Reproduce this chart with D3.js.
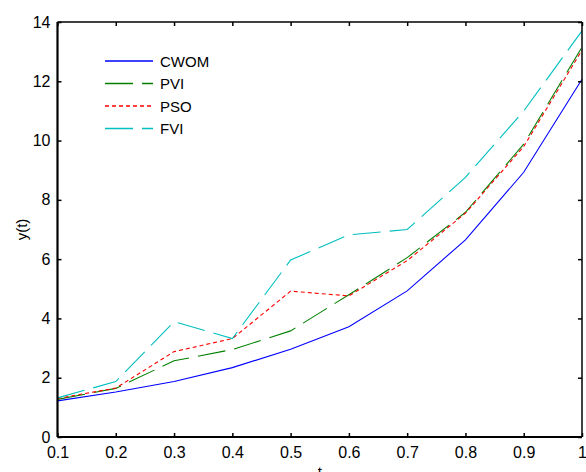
<!DOCTYPE html>
<html>
<head>
<meta charset="utf-8">
<script src="https://cdn.jsdelivr.net/npm/d3@7"></script>
<style>
  html, body { margin: 0; padding: 0; background: #fff; }
  svg { display: block; font-family: "Liberation Sans", Arial, sans-serif; }
</style>
</head>
<body>
<svg id="chart" width="586" height="472"></svg>
<script>
// t values and the four solution curves
const tValues = [0.1, 0.2, 0.3, 0.4, 0.5, 0.6, 0.7, 0.8, 0.9, 1.0];
const cwom = [1.22, 1.52, 1.87, 2.34, 2.96, 3.72, 4.93, 6.65, 8.93, 12.07];
const pvi  = [1.27, 1.64, 2.57, 2.95, 3.58, 4.80, 6.05, 7.58, 9.88, 13.15];
const pso  = [1.30, 1.65, 2.88, 3.32, 4.92, 4.76, 5.95, 7.55, 9.80, 13.05];
const fvi  = [1.32, 1.87, 3.89, 3.32, 5.97, 6.82, 7.00, 8.76, 11.0, 13.70];

const seriesNames = ["CWOM", "PVI", "PSO", "FVI"];
const seriesColors = ["#0000ff", "#008000", "#ff0000", "#00bfbf"];
const seriesDashes = [null, "28,9", "4,3", "28,9"];
const seriesValues = [cwom, pvi, pso, fvi];

const xTicks = [0.1, 0.2, 0.3, 0.4, 0.5, 0.6, 0.7, 0.8, 0.9, 1];
const yTicks = [0, 2, 4, 6, 8, 10, 12, 14];

const svg = d3.select("#chart");
const margin = { left: 57.5, right: 582, top: 22, bottom: 437 };

const x = d3.scaleLinear().domain([0.1, 1]).range([margin.left, margin.right]);
const y = d3.scaleLinear().domain([0, 14]).range([margin.bottom, margin.top]);

// curves
const line = d3.line().x((d, i) => x(tValues[i])).y(d => y(d));
seriesValues.forEach((vals, k) => {
  svg.append("path")
    .datum(vals)
    .attr("d", line)
    .attr("fill", "none")
    .attr("stroke", seriesColors[k])
    .attr("stroke-width", 1.1)
    .attr("stroke-dasharray", seriesDashes[k]);
});

// axes: ticks point inward, box frame
const fmtX = d => (d === 1 ? "1" : d3.format(".1f")(d));
const bottomAxis = d3.axisBottom(x).tickValues(xTicks).tickSize(-4).tickPadding(10).tickFormat(fmtX);
const topAxis = d3.axisTop(x).tickValues(xTicks).tickSize(-4).tickFormat("");
const leftAxis = d3.axisLeft(y).tickValues(yTicks).tickSize(-4).tickPadding(7).tickFormat(d3.format("d"));
const rightAxis = d3.axisRight(y).tickValues(yTicks).tickSize(-4).tickFormat("");

function styleAxis(g, width) {
  g.select(".domain").attr("stroke", "#000").attr("stroke-width", width);
  g.selectAll(".tick line").attr("stroke", "#000").attr("stroke-width", 1.5);
  g.selectAll(".tick text").attr("fill", "#000").attr("font-size", 16)
    .attr("font-family", "'Liberation Sans', Arial, sans-serif");
}

svg.append("g").attr("transform", `translate(0,${margin.top})`).call(topAxis).call(g => styleAxis(g, 1.5))
  .select(".domain").attr("d", `M${margin.left},0H${margin.right}`);
svg.append("g").attr("transform", `translate(${margin.right},0)`).call(rightAxis).call(g => styleAxis(g, 1.5))
  .select(".domain").attr("d", `M0,${margin.bottom}V${margin.top}`);
svg.append("g").attr("transform", `translate(0,${margin.bottom})`).call(bottomAxis).call(g => styleAxis(g, 2.2))
  .select(".domain").attr("d", `M${margin.left},0H${margin.right}`);
svg.append("g").attr("transform", `translate(${margin.left},0)`).call(leftAxis).call(g => styleAxis(g, 2.2))
  .select(".domain").attr("d", `M0,${margin.bottom}V${margin.top}`);

// axis titles
svg.append("text")
  .attr("transform", `translate(27,${(margin.top + margin.bottom) / 2}) rotate(-90)`)
  .attr("text-anchor", "middle")
  .attr("font-size", 15)
  .text("y(t)");
svg.append("text")
  .attr("x", (margin.left + margin.right) / 2)
  .attr("y", 477)
  .attr("text-anchor", "middle")
  .attr("font-size", 15)
  .text("t");

// legend
const legend = svg.append("g");
seriesNames.forEach((name, k) => {
  const ly = 61 + k * 22.5;
  legend.append("line")
    .attr("x1", 105).attr("x2", 153)
    .attr("y1", ly).attr("y2", ly)
    .attr("stroke", seriesColors[k])
    .attr("stroke-width", 1.3)
    .attr("stroke-dasharray", seriesDashes[k]);
  legend.append("text")
    .attr("x", 160).attr("y", ly + 5.5)
    .attr("font-size", 15)
    .text(name);
});
</script>
</body>
</html>
